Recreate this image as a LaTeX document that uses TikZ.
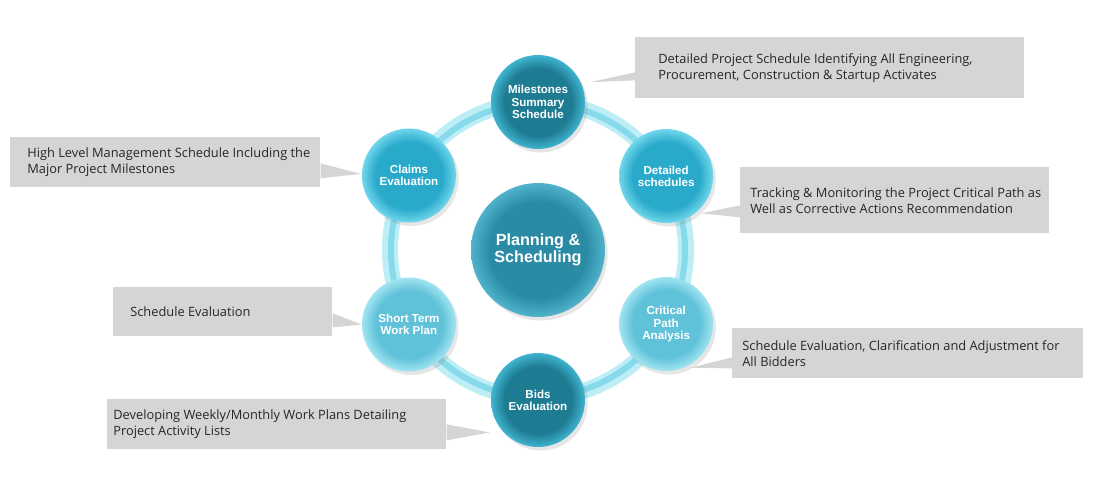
\documentclass[tikz,border=0pt]{standalone}
\usepackage{fontspec}
\setmainfont{Open Sans}
\newfontfamily\labelfont{Liberation Sans}
\usetikzlibrary{positioning,calc,shadows}

\definecolor{boxgray}{HTML}{D5D5D5}
\definecolor{ringouter}{HTML}{BDEEF5}
\definecolor{ringinner}{HTML}{86DAEB}
\colorlet{glowin}{white}
\colorlet{glowout}{white}
\pgfdeclareradialshading[glowin,glowout]{glow}{\pgfpoint{0bp}{0bp}}{color(0bp)=(glowin); color(18bp)=(glowin); color(25bp)=(glowout); color(50bp)=(glowout)}

\begin{document}
\begin{tikzpicture}[x=0.02cm,y=0.02cm,
  glowin/.code={\colorlet{glowin}{#1}},
  glowout/.code={\colorlet{glowout}{#1}},
  stage/.style={circle, minimum size=1.88cm, inner sep=0pt, align=center, text=white,
    font=\labelfont\bfseries\fontsize{6.6}{7}\selectfont, shading=glow,
    drop shadow={shadow xshift=1.5pt, shadow yshift=-2pt, opacity=0.2}},
  dark/.style={glowin={rgb,255:red,30;green,124;blue,146}, glowout={rgb,255:red,64;green,180;blue,208}},
  mid/.style={glowin={rgb,255:red,42;green,170;blue,203}, glowout={rgb,255:red,112;green,214;blue,236}},
  light/.style={glowin={rgb,255:red,96;green,194;blue,217}, glowout={rgb,255:red,162;green,228;blue,241}},
  hubnode/.style={stage, minimum size=2.68cm, glowin={rgb,255:red,43;green,139;blue,164},
    glowout={rgb,255:red,80;green,178;blue,203}, font=\labelfont\bfseries\fontsize{9.2}{9.5}\selectfont},
  callout/.style={fill=boxgray, anchor=north west, inner sep=0pt},
  note/.style={anchor=west, align=left, inner sep=0pt, text=black!85,
    font=\fontsize{7.3}{9.1}\selectfont}]
\useasboundingbox (0,0) rectangle (1100,-498);
\coordinate (hub) at (538,-250);
\draw[ringouter, line width=0.32cm] (hub) circle (148);
\draw[ringinner, line width=0.12cm] (hub) circle (147);

\node[hubnode] (plan) at (hub) {Planning \&\\Scheduling};
\node[stage, dark] (ms) at ($(hub)+(90:148)$) {Milestones\\Summary\\Schedule};
\node[stage, mid] (ce) at ($(hub)+(150:149)$) {Claims\\Evaluation};
\node[stage, mid] (ds) at ($(hub)+(30:148)$) {Detailed\\schedules};
\node[stage, light] (st) at ($(hub)+(210:149)$) {Short Term\\Work Plan};
\node[stage, light] (cp) at ($(hub)+(330:148)$) {Critical\\Path\\Analysis};
\node[stage, dark] (be) at ($(hub)+(270:150)$) {Bids\\Evaluation};

\node[callout, minimum width=7.78cm, minimum height=1.22cm] (b1) at (635,-37) {};
\fill[boxgray] ($(b1.west)+(0,-4.5)$) -- ($(b1.west)+(0,-12.5)$) -- ($(ms.center)+(21:55)$) -- cycle;
\node[note] (t1) at ($(b1.west)+(23,0)$) {Detailed Project Schedule Identifying All Engineering,\\Procurement, Construction \& Startup Activates};

\node[callout, minimum width=6.2cm, minimum height=1.0cm] (b2) at (10,-137) {};
\fill[boxgray] ($(b2.east)+(0,-1)$) -- ($(b2.east)+(0,-16)$) -- ($(ce.center)+(178:48)$) -- cycle;
\node[note] (t2) at ($(b2.west)+(17,0)$) {High Level Management Schedule Including the\\Major Project Milestones};

\node[callout, minimum width=6.18cm, minimum height=1.32cm] (b3) at (740,-167) {};
\fill[boxgray] ($(b3.west)+(0,-5)$) -- ($(b3.west)+(0,-17)$) -- ($(ds.center)+(-47:51)$) -- cycle;
\node[note] (t3) at ($(b3.west)+(10,0)$) {Tracking \& Monitoring the Project Critical Path as\\Well as Corrective Actions Recommendation};

\node[callout, minimum width=4.38cm, minimum height=0.98cm] (b4) at (113,-287) {};
\fill[boxgray] ($(b4.east)+(0,-1.5)$) -- ($(b4.east)+(0,-15.5)$) -- ($(st.center)+(180:47)$) -- cycle;
\node[note] (t4) at ($(b4.west)+(17,0)$) {Schedule Evaluation};

\node[callout, minimum width=7.02cm, minimum height=1.0cm] (b5) at (732,-328) {};
\fill[boxgray] ($(b5.west)+(0,-4)$) -- ($(b5.west)+(0,-15)$) -- ($(cp.center)+(-61:50)$) -- cycle;
\node[note] (t5) at ($(b5.west)+(10,0)$) {Schedule Evaluation, Clarification and Adjustment for\\All Bidders};

\node[callout, minimum width=6.78cm, minimum height=1.0cm] (b6) at (107,-399) {};
\fill[boxgray] ($(b6.east)+(0,0)$) -- ($(b6.east)+(0,-16)$) -- ($(be.center)+(214:58)$) -- cycle;
\node[note] (t6) at ($(b6.west)+(6,0)$) {Developing Weekly/Monthly Work Plans Detailing\\Project Activity Lists};
\end{tikzpicture}
\end{document}
